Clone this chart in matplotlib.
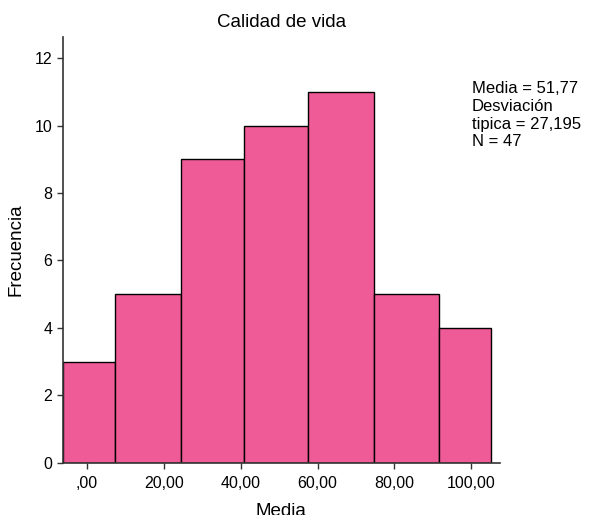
import numpy as np
import matplotlib.pyplot as plt

plt.rcParams['font.family'] = ['Liberation Sans', 'DejaVu Sans']

# bordes de los intervalos y frecuencias
bordes = [-6.2, 7.3, 24.4, 40.9, 57.5, 74.6, 91.6, 105.1]
frecuencias = [3, 5, 9, 10, 11, 5, 4]
ticks_x = [0, 20, 40, 60, 80, 100]
etiquetas_x = [',00', '20,00', '40,00', '60,00', '80,00', '100,00']
ticks_y = [0, 2, 4, 6, 8, 10, 12]

fig = plt.figure(figsize=(5.95, 5.15), dpi=100)
ax = fig.add_axes([0.106, 0.101, 0.734, 0.827])

anchos = np.diff(bordes)
ax.bar(bordes[:-1], frecuencias, width=anchos, align='edge',
       color='#EF5B97', edgecolor='black', linewidth=1.0)

ax.set_xlim(-6.2, 107.4)
ax.set_ylim(0, 12.62)
ax.set_xticks(ticks_x)
ax.set_xticklabels(etiquetas_x)
ax.set_yticks(ticks_y)
ax.tick_params(labelsize=11.5, length=4.3, width=1, color='#333333', direction='out')
ax.tick_params(axis='x', pad=5)
ax.tick_params(axis='y', pad=3.5)

for lado in ['top', 'right']:
    ax.spines[lado].set_visible(False)
for lado in ['left', 'bottom']:
    ax.spines[lado].set_color('#333333')
    ax.spines[lado].set_linewidth(1.2)

ax.set_title('Calidad de vida', fontsize=13.5, pad=7)
ax.set_xlabel('Media', fontsize=13.5, labelpad=9)
ax.set_ylabel('Frecuencia', fontsize=13.5, labelpad=7)

fig.text(0.793, 0.842, 'Media = 51,77\nDesviación\ntipica = 27,195\nN = 47',
         fontsize=12, va='top', ha='left', linespacing=1.22)

fig.savefig('out.png', dpi=100)
